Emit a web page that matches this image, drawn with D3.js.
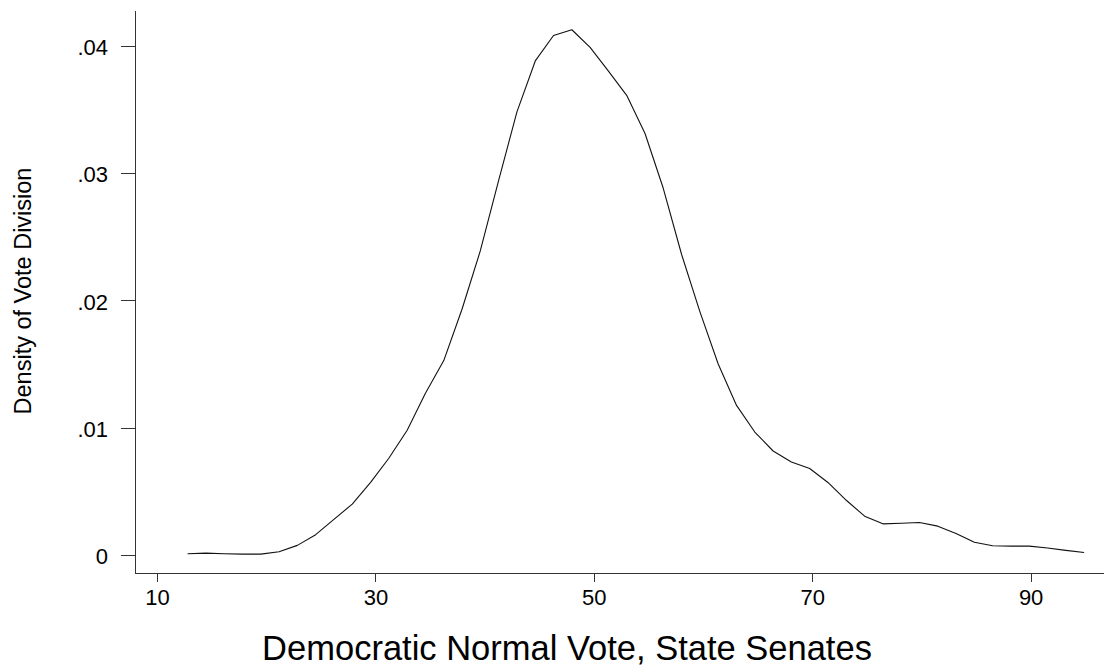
<!DOCTYPE html>
<html>
<head>
<meta charset="utf-8">
<script src="https://cdn.jsdelivr.net/npm/d3@7"></script>
<style>
  html, body { margin: 0; padding: 0; background: #fff; }
  svg { display: block; font-family: "Liberation Sans", Arial, sans-serif; }
  .axis path, .axis line { stroke: #333; shape-rendering: crispEdges; }
  .axis text { fill: #000; font-size: 22px; }
</style>
</head>
<body>
<svg id="chart" width="1104" height="672"></svg>
<script>
'use strict';

// ── Data ────────────────────────────────────────────────────
const voteShare = [
  12.80, 14.48, 16.15, 17.83, 19.50, 21.18, 22.85, 24.53, 26.20, 27.88,
  29.56, 31.23, 32.91, 34.58, 36.26, 37.93, 39.61, 41.28, 42.96, 44.64,
  46.31, 47.99, 49.66, 51.34, 53.01, 54.69, 56.36, 58.04, 59.72, 61.39,
  63.07, 64.74, 66.42, 68.09, 69.77, 71.44, 73.12, 74.80, 76.47, 78.15,
  79.82, 81.50, 83.17, 84.85, 86.52, 88.20, 89.88, 91.55, 93.23, 94.90
];
const density = [
  0.00010, 0.00015, 0.00010, 0.00007, 0.00007, 0.00026, 0.00076, 0.00160, 0.00280, 0.00400,
  0.00570, 0.00760, 0.00980, 0.01270, 0.01527, 0.01930, 0.02390, 0.02940, 0.03480, 0.03880,
  0.04080, 0.04125, 0.03986, 0.03800, 0.03610, 0.03310, 0.02880, 0.02360, 0.01910, 0.01500,
  0.01175, 0.00966, 0.00817, 0.00730, 0.00680, 0.00570, 0.00430, 0.00305, 0.00245, 0.00250,
  0.00256, 0.00227, 0.00170, 0.00100, 0.00073, 0.00070, 0.00070, 0.00055, 0.00037, 0.00020
];
const xTicks = [10, 30, 50, 70, 90];
const yTicks = [0, 0.01, 0.02, 0.03, 0.04];
const yTickLabels = ['0', '.01', '.02', '.03', '.04'];

const X_TITLE = 'Democratic Normal Vote, State Senates';
const Y_TITLE = 'Density of Vote Division';

// ── Scales ──────────────────────────────────────────────────
const svg = d3.select('#chart');

const x = d3.scaleLinear().domain([7.985, 96.72]).range([135, 1104]);
const y = d3.scaleLinear().domain([-0.00141, 0.0428]).range([573, 10]);

// ── Axes ────────────────────────────────────────────────────
svg.append('g')
  .attr('class', 'axis')
  .attr('transform', 'translate(135,0)')
  .call(d3.axisLeft(y)
    .tickValues(yTicks)
    .tickSize(14)
    .tickSizeOuter(0)
    .tickPadding(13)
    .tickFormat((d, i) => yTickLabels[i]))
  .selectAll('text').attr('dy', '0.4em');

svg.append('g')
  .attr('class', 'axis')
  .attr('transform', 'translate(0,573)')
  .call(d3.axisBottom(x)
    .tickValues(xTicks)
    .tickSize(9)
    .tickSizeOuter(0)
    .tickPadding(7)
    .tickFormat(d3.format('d')));

// ── Density curve ───────────────────────────────────────────
const line = d3.line()
  .x((d, i) => x(voteShare[i]))
  .y(d => y(d));

svg.append('path')
  .datum(density)
  .attr('fill', 'none')
  .attr('stroke', '#111')
  .attr('stroke-width', 1.1)
  .attr('stroke-linejoin', 'round')
  .attr('d', line);

// ── Titles ──────────────────────────────────────────────────
svg.append('text')
  .attr('x', 567)
  .attr('y', 660)
  .attr('text-anchor', 'middle')
  .attr('font-size', 34.5)
  .text(X_TITLE);

svg.append('text')
  .attr('transform', 'translate(31,291) rotate(-90)')
  .attr('text-anchor', 'middle')
  .attr('font-size', 23.5)
  .text(Y_TITLE);
</script>
</body>
</html>
